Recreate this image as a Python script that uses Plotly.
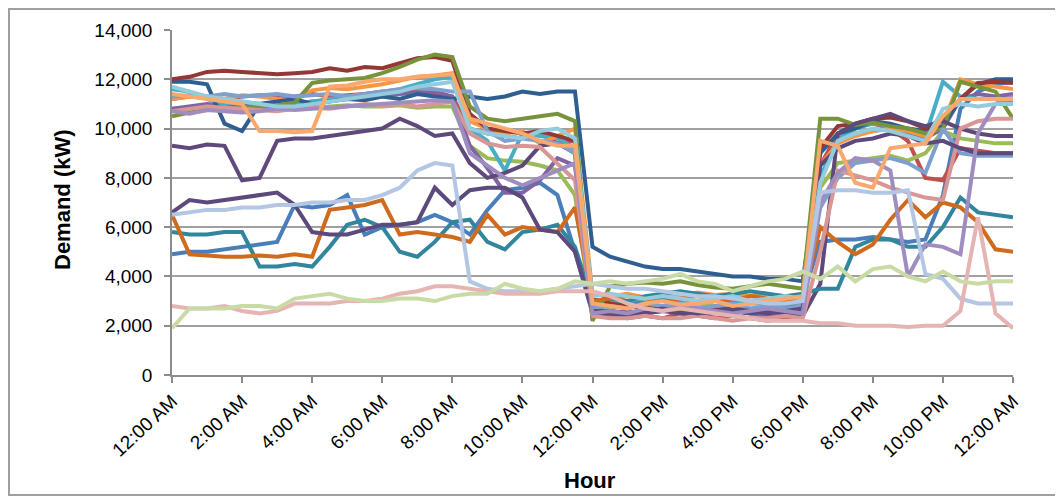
import plotly.graph_objects as go

HOURS = [i * 0.5 for i in range(49)]
TICK_VALS = [0, 2, 4, 6, 8, 10, 12, 14, 16, 18, 20, 22, 24]
TICK_TEXT = ["12:00 AM", "2:00 AM", "4:00 AM", "6:00 AM", "8:00 AM", "10:00 AM",
             "12:00 PM", "2:00 PM", "4:00 PM", "6:00 PM", "8:00 PM", "10:00 PM", "12:00 AM"]
Y_TICKS = [0, 2000, 4000, 6000, 8000, 10000, 12000, 14000]

MID_BLUE = [4900,5000,5000,5100,5200,5300,5400,6900,6800,6900,7300,5700,6000,6100,6200,6500,6200,
            5700,6700,7500,7600,7800,7300,5000,2500,
            3000,2900,3000,3100,3000,2900,3000,3100,3000,2900,3000,3200,
            5400,5500,5500,5600,5500,5400,5500,7300,10800,11500,11800,11900]
RED = [11200,11300,11250,11200,11300,11350,11250,11300,11400,11300,11350,11400,11500,11450,11500,11400,11300,
       10000,9800,9700,9600,9800,9400,9500,2800,
       2400,2300,2400,2300,2500,2400,2300,2400,2300,2200,2300,2400,
       8500,9800,10100,10200,10000,9500,8000,7900,9200,9100,9000,9000]
LIGHT_GREEN = [10800,10850,10900,10850,10800,10900,10850,10800,10850,10900,10950,10900,10900,10950,10850,10900,10900,
               9300,8800,8700,8650,8500,8300,7300,2300,
               2700,2800,2700,2800,2700,2900,2800,2700,2600,2700,2800,2700,
               7600,8600,8700,8800,8900,8700,9000,9900,9600,9500,9400,9400]
PURPLE = [10800,10900,11000,10950,11000,10900,10850,11000,11100,11150,11200,11250,11300,11400,11450,11500,11300,
          9300,8400,7400,7400,7900,8800,8500,2400,
          2500,2600,2500,2600,2700,2600,2500,2600,2500,2400,2500,2600,
          8000,9500,9800,9900,10000,9800,9600,10000,11200,11400,11300,11400]
AQUA = [11600,11500,11200,11000,11100,11000,10900,11000,11100,11200,11300,11400,11500,11600,11800,12000,12100,
        10000,9500,8300,9800,9700,9600,9200,3000,
        2900,3000,3100,3000,2900,3000,3100,3000,2900,2900,2800,3000,
        8000,9600,10000,10200,10100,9900,9700,11900,11300,11200,11200,11100]
ORANGE = [11200,11300,11250,11200,11350,11300,11200,11150,11550,11650,11600,11700,11800,11950,12100,12150,12250,
          10300,10000,9800,9900,9400,9700,10000,3300,
          3200,3300,3150,3300,3200,3350,3250,3300,3200,3300,3100,3300,
          8500,9400,9700,9900,10000,9900,9700,10200,12000,11800,11700,11600]
DARK_BLUE = [11900,11900,11800,10200,9900,11000,11100,11200,11000,11100,11200,11150,11300,11200,11400,11300,11200,
             11300,11200,11300,11500,11400,11500,11500,5200,
             4800,4600,4400,4300,4300,4200,4100,4000,4000,3900,3900,3800,
             9000,9800,10000,10300,10200,10000,9900,10100,11200,11800,12000,12000]
DARK_RED = [12000,12100,12300,12350,12300,12250,12200,12250,12300,12450,12350,12500,12450,12650,12850,12900,12750,
            10600,10000,9900,9800,9900,9700,9500,3100,
            2900,2800,2700,2750,2800,2700,2650,2700,2600,2650,2700,2800,
            9200,10100,10200,10400,10450,10300,10000,10400,11200,11850,11900,11850]
OLIVE = [10500,10650,10750,10800,10850,10900,10950,11050,11850,11950,12000,12050,12250,12500,12800,13000,12900,
         10900,10400,10300,10400,10500,10600,10300,2200,
         3600,3700,3750,3700,3800,3650,3550,3500,3600,3700,3600,3500,
         10400,10400,10150,10250,10100,10000,9800,10000,11900,11700,11500,10400]
DARK_PURPLE_A = [9300,9200,9350,9300,7900,8000,9500,9600,9600,9700,9800,9900,10000,10400,10100,9700,9800,
                 8600,8000,8200,8500,9300,9400,9000,2400,
                 2500,2400,2500,2600,2500,2400,2500,2600,2500,2600,2500,2400,
                 3700,9800,10200,10400,10600,10300,10100,10300,10000,9800,9700,9700]
TEAL = [5800,5700,5700,5800,5800,4400,4400,4500,4400,5200,6100,6300,6000,5000,4800,5400,6200,
        6300,5400,5100,5800,5900,6100,5200,3000,
        3100,3000,3200,3300,3400,3300,3200,3300,3400,3300,3200,3300,
        3500,3500,5200,5500,5500,5200,5200,6000,7200,6600,6500,6400]
DARK_ORANGE = [6500,4900,4850,4800,4800,4850,4800,4900,4800,6700,6800,6900,7100,5700,5800,5700,5600,
               5400,6500,5700,6000,5900,5800,6800,3000,
               3100,3200,3100,3000,3100,3200,3100,3000,3200,3100,3000,3100,
               6000,5400,4900,5300,6300,7100,6400,7000,6800,6200,5100,5000]
STEEL_BLUE = [11300,11350,11300,11400,11300,11350,11400,11300,11350,11400,11300,11400,11500,11600,11650,11600,11500,
              11500,9900,9500,9600,9500,9400,9000,2700,
              2800,2700,2900,2800,2900,2700,2800,2900,2700,2800,2700,2800,
              6800,8000,8600,8700,8800,8600,8200,10000,9000,8900,8900,8900]
ROSE = [10700,10800,10900,10850,10800,10750,10700,10800,10850,10800,10900,11000,10950,11000,10900,11000,11100,
        9800,9400,9250,9300,9250,8600,7900,2400,
        2300,2300,2400,2300,2300,2400,2300,2200,2300,2300,2400,2300,
        5000,8300,8100,7900,7600,7400,7200,7100,10000,10300,10400,10400]
DARK_PURPLE_B = [6600,7100,7000,7100,7200,7300,7400,6900,5800,5700,5700,5900,6100,6100,6200,7600,6900,
                 7500,7600,7600,7200,5900,5800,5000,2600,
                 2600,2500,2600,2700,2600,2500,2600,2700,2600,2500,2600,2700,
                 8500,9200,9500,9600,9800,9700,9400,9500,9200,9000,9000,9000]
LIGHT_PURPLE = [10700,10600,10750,10700,10650,10700,10800,10750,10800,10850,10900,10950,11000,11050,11100,11150,11100,
                9000,8500,8000,7700,8000,8300,8600,2500,
                2600,2500,2700,2600,2800,2700,2600,2500,2600,2700,2600,2500,
                7000,8200,8800,8700,8300,4000,5300,5200,4900,9800,11000,11300]
LIGHT_AQUA = [11700,11500,11300,11200,11100,11000,10900,10900,11000,11100,11200,11300,11400,11500,11700,11800,11900,
              10000,9800,9700,9600,9900,10000,9600,3200,
              3300,3200,3100,3200,3100,3000,3100,3200,3000,3100,3200,3100,
              7800,9500,9800,10000,9900,9700,9500,10800,11000,10900,11000,11000]
SALMON = [11400,11300,11200,11100,11000,9900,9900,9850,9900,11700,11750,11900,12000,12000,12100,12150,12200,
          10400,10200,10000,9800,9500,9300,9300,2900,
          2800,2700,2900,3000,2850,2900,3000,2800,2900,3000,3100,3200,
          9500,9300,7800,7600,9200,9300,9400,10500,11200,11200,11200,11200]
LIGHT_BLUE = [6500,6600,6700,6700,6800,6800,6900,6900,7000,7000,7100,7100,7300,7600,8300,8600,8500,
              3800,3500,3400,3400,3400,3500,3600,3700,
              3600,3500,3500,3400,3300,3200,3200,3100,3000,2900,2900,3000,
              7400,7500,7500,7400,7400,7500,4100,3900,3100,2900,2900,2900]
PINK = [2800,2700,2700,2800,2600,2500,2600,2900,2900,2900,3000,3000,3100,3300,3400,3600,3600,
        3500,3400,3300,3300,3300,3400,3400,3400,
        3200,2900,2700,2600,2700,2600,2500,2400,2300,2200,2200,2200,
        2100,2100,2000,2000,2000,1950,2000,2000,2600,6400,2500,1900]
PALE_GREEN = [1900,2700,2700,2700,2800,2800,2700,3100,3200,3300,3100,3000,3000,3100,3100,3000,3200,
              3300,3300,3700,3500,3400,3500,3800,3700,
              3800,3700,3800,3900,4100,3800,3700,3400,3600,3800,3900,4200,
              3900,4400,3800,4300,4400,4000,3800,4200,3800,3700,3800,3800]

SERIES = [
    (MID_BLUE, "#4A7EBB"), (RED, "#C0504D"), (LIGHT_GREEN, "#9BBB59"), (PURPLE, "#8064A2"),
    (AQUA, "#4BACC6"), (ORANGE, "#F79646"), (DARK_BLUE, "#2F5E91"), (DARK_RED, "#953735"),
    (OLIVE, "#77933C"), (DARK_PURPLE_A, "#5F497A"), (TEAL, "#31859C"), (DARK_ORANGE, "#D06B1E"),
    (STEEL_BLUE, "#7F9FCF"), (ROSE, "#D99694"), (DARK_PURPLE_B, "#5C4A7D"), (LIGHT_PURPLE, "#A08DC0"),
    (LIGHT_AQUA, "#93CDDD"), (SALMON, "#F9A86E"), (LIGHT_BLUE, "#B3C6E4"), (PINK, "#E6B4B3"),
    (PALE_GREEN, "#C9DBA5"),
]
for vals, _ in SERIES:
    assert len(vals) == len(HOURS), len(vals)

FONT = "Arial, Liberation Sans, sans-serif"
fig = go.Figure()
for vals, color in SERIES:
    fig.add_trace(go.Scatter(x=HOURS, y=vals, mode="lines",
                             line=dict(color=color, width=4), showlegend=False,
                             hoverinfo="skip"))

# The page body has an 8px margin; the figure is sized so that it fills the window.
OFF = 8
FIG_W, FIG_H = 1063 - OFF, 499 - OFF
P_LEFT, P_RIGHT, P_TOP, P_BOTTOM = 172, 1013, 30, 375  # plot area in window pixels
L, T = P_LEFT - OFF, P_TOP - OFF
R, B = FIG_W - (P_RIGHT - OFF), FIG_H - (P_BOTTOM - OFF)
PW, PH = P_RIGHT - P_LEFT, P_BOTTOM - P_TOP

def px(x):
    return (x - P_LEFT) / PW

def py(y):
    return (P_BOTTOM - y) / PH

fig.update_layout(
    width=FIG_W, height=FIG_H,
    margin=dict(l=L, r=R, t=T, b=B, autoexpand=False),
    paper_bgcolor="white", plot_bgcolor="white",
    font=dict(family=FONT, size=19, color="#000000"),
    xaxis=dict(range=[0, 24], tickvals=TICK_VALS, ticktext=TICK_TEXT, tickangle=-43,
               showgrid=False, zeroline=False, showline=True, linecolor="#8c8c8c", linewidth=1.5,
               ticks="outside", ticklen=6, tickcolor="#8c8c8c", tickwidth=1.5,
               tickfont=dict(size=19), automargin=False),
    yaxis=dict(range=[0, 14000], tickvals=Y_TICKS,
               tickformat=",", showgrid=True, gridcolor="#a0a0a0", gridwidth=1.5,
               zeroline=False, showline=True, linecolor="#8c8c8c", linewidth=1.5,
               ticks="outside", ticklen=6, tickcolor="#8c8c8c", tickwidth=1.5,
               ticklabelstandoff=8,
               tickfont=dict(size=19), automargin=False),
    annotations=[
        dict(text="<b>Demand (kW)</b>", xref="paper", yref="paper", x=px(62), y=py(200),
             xanchor="center", yanchor="middle",
             textangle=-90, showarrow=False, font=dict(size=22, family=FONT)),
        dict(text="<b>Hour</b>", xref="paper", yref="paper", x=px(590), y=py(480),
             xanchor="center", yanchor="middle",
             showarrow=False, font=dict(size=22, family=FONT)),
    ],
    shapes=[
        dict(type="rect", xref="paper", yref="paper", x0=px(9), x1=px(1058), y0=py(495), y1=py(9),
             line=dict(color="#a0a0a0", width=2), layer="below"),
    ],
)

fig.write_html("out.html")
